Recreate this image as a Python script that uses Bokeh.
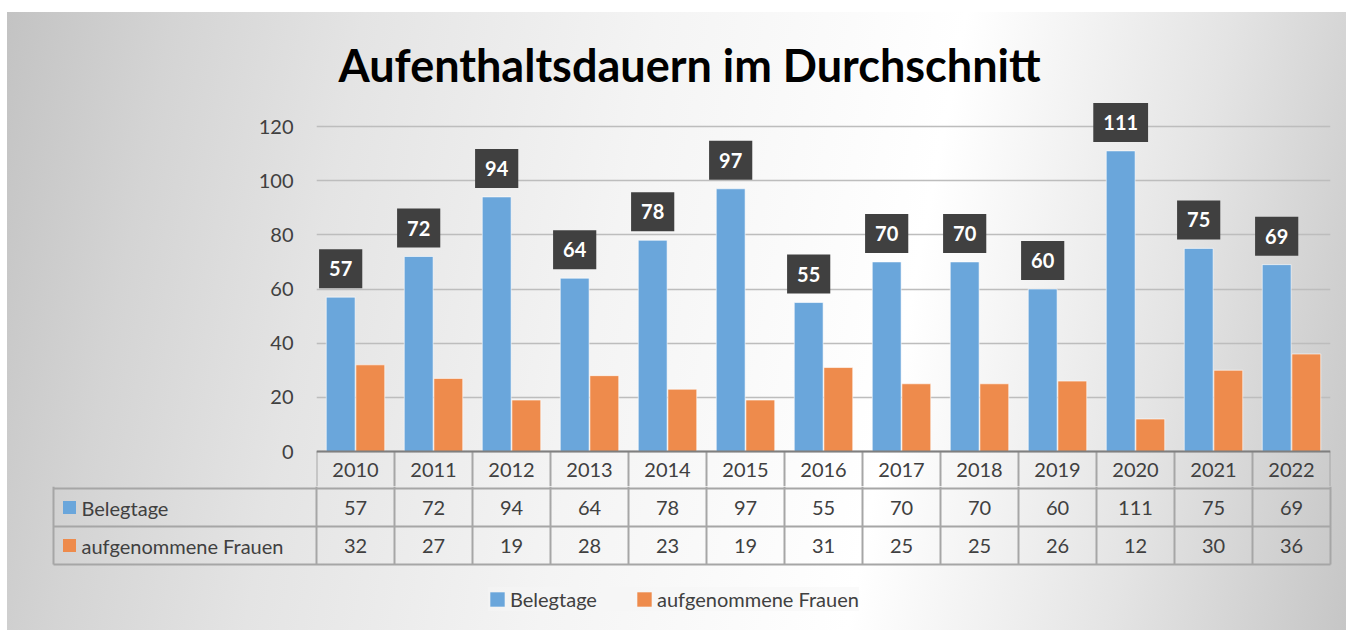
from bokeh.plotting import figure
from bokeh.models import (ColumnDataSource, FactorRange, Range1d, FixedTicker,
                          Span, Legend, LegendItem)
from bokeh.layouts import column
from bokeh.transform import dodge
from bokeh.core.properties import value
from bokeh.embed import file_html
from bokeh.resources import INLINE

# ---------------- data ----------------
title = "Aufenthaltsdauern im Durchschnitt"
years = ["2010", "2011", "2012", "2013", "2014", "2015", "2016",
         "2017", "2018", "2019", "2020", "2021", "2022"]
series_names = ["Belegtage", "aufgenommene Frauen"]
belegtage = [57, 72, 94, 64, 78, 97, 55, 70, 70, 60, 111, 75, 69]
frauen = [32, 27, 19, 28, 23, 19, 31, 25, 25, 26, 12, 30, 36]
y_ticks = [0, 20, 40, 60, 80, 100, 120]

# ---------------- style / layout ----------------
BLUE = "#6aa6db"
ORANGE = "#ee8b4c"
FONT = "Lato"
TXT = "#404040"
GRID = "#bdbdbd"
CELL = "#a6a6a6"

W = 1346
LEFT = 316            # plot-area left (page x)
RIGHT = 16            # plot-area right at page x 1330
TOP = 96              # plot-area top in figure A
A_H = 486             # figure A: page y 0..486 (includes year header row)
B_H = 144             # figure B: page y 486..630
ZERO_Y = 451          # page y of value 0
PX_Y = 325 / 120      # pixels per value unit
n = len(years)
unit = (W - LEFT - RIGHT) / n

# ---------------- chart (figure A) ----------------
A = figure(width=W, height=A_H,
           x_range=FactorRange(factors=years, range_padding=0),
           y_range=Range1d(-(A_H - ZERO_Y) / PX_Y, (ZERO_Y - TOP) / PX_Y),
           output_backend="svg", toolbar_location=None,
           x_axis_location=None, y_axis_location="left",
           min_border_left=LEFT, min_border_right=RIGHT,
           min_border_top=TOP, min_border_bottom=0)
A.frame_align = False
A.background_fill_color = None
A.border_fill_color = None
A.outline_line_color = None

A.title.text = title
A.title.text_font = FONT
A.title.text_font_style = "bold"
A.title.text_font_size = "45px"
A.title.text_color = "black"
A.title.align = "left"
A.title.offset = 22

A.yaxis.ticker = FixedTicker(ticks=y_ticks)
A.yaxis.axis_line_color = None
A.yaxis.major_tick_line_color = None
A.yaxis.minor_tick_line_color = None
A.yaxis.major_tick_out = 0
A.yaxis.major_label_standoff = 23
A.yaxis.major_label_text_font = FONT
A.yaxis.major_label_text_font_size = "20px"
A.yaxis.major_label_text_color = TXT
A.ygrid.ticker = FixedTicker(ticks=y_ticks)
A.ygrid.grid_line_color = GRID
A.ygrid.grid_line_width = 1.5
A.xgrid.grid_line_color = None

src = ColumnDataSource(dict(year=years, belegtage=belegtage, frauen=frauen,
                            lab=[str(v) for v in belegtage]))
A.vbar(x=dodge("year", -0.19, range=A.x_range), top="belegtage", width=0.37,
       source=src, fill_color=BLUE, line_color="white", line_alpha=0.6, line_width=1)
A.vbar(x=dodge("year", 0.19, range=A.x_range), top="frauen", width=0.37,
       source=src, fill_color=ORANGE, line_color="white", line_alpha=0.6, line_width=1)

A.text(x=dodge("year", -0.19, range=A.x_range), y="belegtage", text="lab", source=src,
       text_font=value(FONT), text_font_style="bold", text_font_size="20px",
       text_color="white", text_align="center", text_baseline="bottom",
       y_offset=-9, background_fill_color="#404040",
       padding=dict(left=10, right=10, top=12, bottom=12))

# year header row of the data table (below the value axis)
hdr_bottom = -(A_H - ZERO_Y) / PX_Y
edges = list(range(n + 1))
A.segment(x0=edges, y0=[0] * (n + 1), x1=edges, y1=[hdr_bottom] * (n + 1),
          line_color=CELL, line_width=2)
A.text(x="year", y=0, text="year", source=src, y_offset=18,
       text_font=value(FONT), text_font_size="20px", text_color=TXT,
       text_align="center", text_baseline="middle")
A.add_layout(Span(location=0, dimension="width", line_color="#7f7f7f", line_width=2))

# ---------------- data rows + legend (figure B) ----------------
B = figure(width=W, height=B_H,
           x_range=Range1d(-LEFT / unit, (W - LEFT) / unit),
           y_range=Range1d(B_H, 0),
           output_backend="svg", toolbar_location=None,
           x_axis_location=None, y_axis_location=None, min_border=0)
B.frame_align = False
B.background_fill_color = None
B.border_fill_color = None
B.outline_line_color = None
B.grid.visible = False

row_edges = [2, 40, 78]                # px from top of figure B
label_x0 = -(LEFT - 53) / unit          # left edge of row-label column

vx = list(range(n + 1)) + [label_x0]
B.segment(x0=vx, y0=[0] * len(vx), x1=vx, y1=[row_edges[-1]] * len(vx),
          line_color=CELL, line_width=2)
B.segment(x0=[label_x0] * len(row_edges), y0=row_edges,
          x1=[n] * len(row_edges), y1=row_edges, line_color=CELL, line_width=2)

cx = [i + 0.5 for i in range(n)]
mid = [(row_edges[k] + row_edges[k + 1]) / 2 for k in range(2)]
txt_kw = dict(text_font=value(FONT), text_font_size="20px", text_color=TXT,
              text_align="center", text_baseline="middle")
B.text(x=cx, y=[mid[0]] * n, text=[str(v) for v in belegtage], **txt_kw)
B.text(x=cx, y=[mid[1]] * n, text=[str(v) for v in frauen], **txt_kw)

B.text(x=[label_x0 + 28 / unit] * 2, y=mid, text=series_names,
       text_font=value(FONT), text_font_size="20px", text_color=TXT,
       text_align="left", text_baseline="middle")
key_src = ColumnDataSource(dict(x=[label_x0 + 16 / unit] * 2, y=mid,
                                color=[BLUE, ORANGE]))
keys = B.rect(x="x", y="y", width=13, height=13, width_units="screen",
              height_units="screen", fill_color="color", line_color=None,
              source=key_src)

legend = Legend(items=[LegendItem(label=series_names[0], renderers=[keys], index=0),
                       LegendItem(label=series_names[1], renderers=[keys], index=1)],
                orientation="horizontal", location=(488, 19),
                glyph_width=18, glyph_height=18, label_standoff=4, spacing=38,
                padding=10, margin=0,
                label_text_font=FONT, label_text_font_size="20px",
                label_text_color=TXT,
                background_fill_color="#f5f5f5", background_fill_alpha=0.5,
                border_line_color=None)
B.add_layout(legend)

bg = ("linear-gradient(#ffffff, #ffffff) left top / 7px 100% no-repeat, "
      "linear-gradient(#ffffff, #ffffff) left top / 100% 12px no-repeat, "
      "linear-gradient(101deg, #c2c2c2 0%, #d4d4d4 12%, #e4e4e4 25%, #f4f4f4 45%, "
      "#ffffff 66%, #e4e4e4 84%, #c6c6c6 100%)")
page = column(A, B, spacing=0, styles={"background": bg})

open("out.html", "w").write(file_html(page, INLINE))
